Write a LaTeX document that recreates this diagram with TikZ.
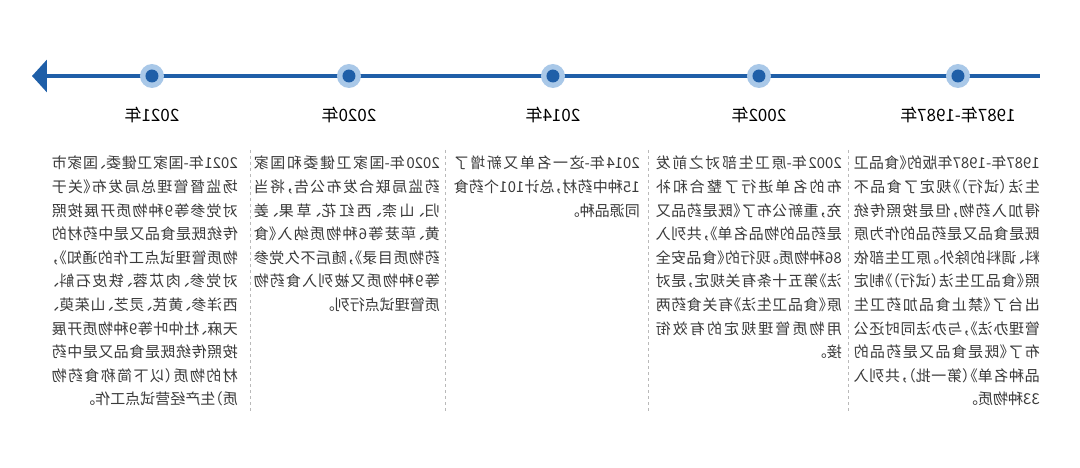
\documentclass[tikz,border=0pt]{standalone}
\usepackage{fontspec}
\setmainfont[RawFeature={+halt}]{Noto Sans CJK SC}
\XeTeXlinebreaklocale "zh"
\XeTeXlinebreakskip=0pt plus 1pt
\usetikzlibrary{arrows.meta}
\definecolor{lineblue}{HTML}{1F5FA8}
\definecolor{ringblue}{HTML}{A9C8E8}
\definecolor{textgray}{HTML}{3A3A3A}
\tikzset{
  ringdot/.style={circle, fill=ringblue, minimum size=24pt, inner sep=0},
  coredot/.style={circle, fill=lineblue, minimum size=13pt, inner sep=0},
  yearlabel/.style={font=\fontsize{17}{19}\selectfont, text=black, inner sep=0},
  desc/.style={anchor=north west, text width=186pt, align=justify, inner sep=0, text=textgray,
    font=\fontsize{15}{23.6}\selectfont},
  sepline/.style={draw=gray!55, dashed, line width=0.7pt}
}
\begin{document}
\begin{tikzpicture}[x=1pt, y=-1pt, xscale=-1, transform shape]
    \useasboundingbox (0,0) rectangle (1080,468);
    % timeline
    \coordinate (start) at (40,76);
    \coordinate (end) at (1048,76);
    \draw[lineblue, line width=4pt, -{Triangle[length=15pt,width=32pt]}] (start) -- (end);
    % dots
    \foreach \name/\x in {y1987/122, y2002/321, y2014/527, y2020/731, y2021/928} {
        \node[ringdot] (\name) at (\x,76) {};
        \node[coredot] at (\name) {};
    }
    % years
    \node[yearlabel] (l1987) at (122,115) {1987年-1987年};
    \node[yearlabel] (l2002) at (321,115) {2002年};
    \node[yearlabel] (l2014) at (527,115) {2014年};
    \node[yearlabel] (l2020) at (731,115) {2020年};
    \node[yearlabel] (l2021) at (928,115) {2021年};
    % separators
    \foreach \x [count=\i] in {232,432,635,830} {
        \coordinate (s\i a) at (\x,150);
        \coordinate (s\i b) at (\x,412);
        \draw[sepline] (s\i a) -- (s\i b);
    }
    % descriptions
    \node[desc] (d1987) at (40,156) {1987年-1987年版的《食品卫生法（试行）》规定了食品不得加入药物，但是按照传统既是食品又是药品的作为原料、调料的除外。原卫生部依照《食品卫生法（试行）》制定出台了《禁止食品加药卫生管理办法》，与办法同时还公布了《既是食品又是药品的品种名单》（第一批），共列入33种物质。};
    \node[desc] (d2002) at (238,156) {2002年-原卫生部对之前发布的名单进行了整合和补充，重新公布了《既是药品又是药品的物品名单》，共列入86种物质。现行的《食品安全法》第五十条有关规定，是对原《食品卫生法》有关食药两用物质管理规定的有效衔接。};
    \node[desc] (d2014) at (440,156) {2014年-这一名单又新增了15种中药材，总计101个药食同源品种。};
    \node[desc] (d2020) at (640,156) {2020年-国家卫健委和国家药监局联合发布公告，将当归、山柰、西红花、草果、姜黄、荜茇等6种物质纳入《食药物质目录》，随后不久党参等9种物质又被列入食药物质管理试点行列。};
    \node[desc] (d2021) at (842,156) {2021年-国家卫健委、国家市场监督管理总局发布《关于对党参等9种物质开展按照传统既是食品又是中药材的物质管理试点工作的通知》，对党参、肉苁蓉、铁皮石斛、西洋参、黄芪、灵芝、山茱萸、天麻、杜仲叶等9种物质开展按照传统既是食品又是中药材的物质（以下简称食药物质）生产经营试点工作。};
\end{tikzpicture}
\end{document}
